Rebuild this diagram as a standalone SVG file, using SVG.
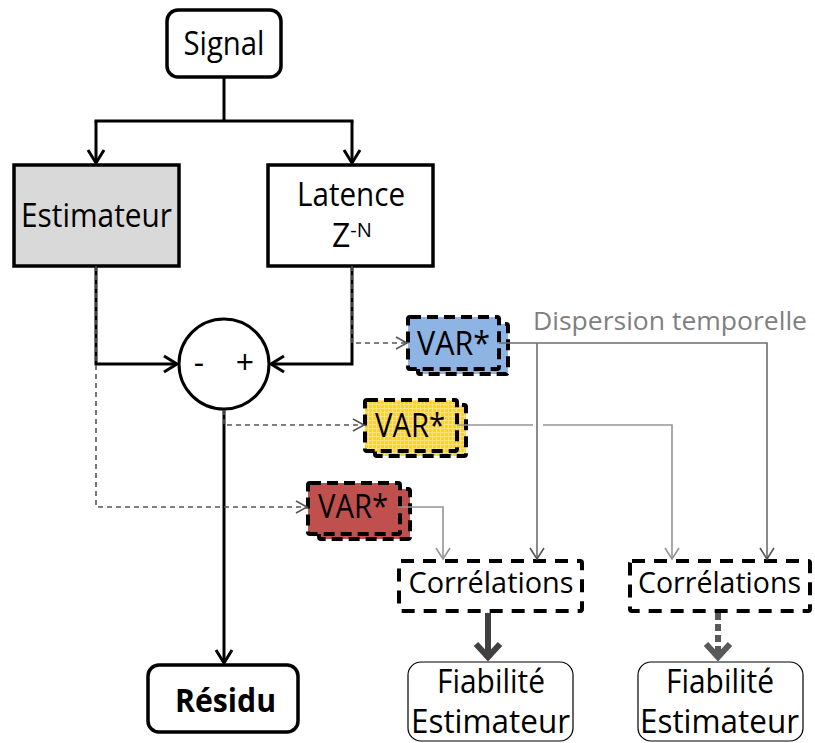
<svg xmlns="http://www.w3.org/2000/svg" width="815" height="743" viewBox="0 0 815 743">
<style>
text{font-family:"Open Sans","Liberation Sans",sans-serif;fill:#000;}
.lbl{font-size:32px;text-anchor:middle;}
.clbl{font-size:29px;text-anchor:middle;}
.box{stroke:#000;stroke-width:3.5;}
.var{stroke:#000;stroke-width:4;stroke-dasharray:11 6;}
.corr{fill:#fff;stroke:#000;stroke-width:4;stroke-dasharray:13 9;}
.fia{fill:#fff;stroke:#000;stroke-width:1.2;}
.solid{fill:none;stroke:#000;stroke-width:3;}
.dash{fill:none;stroke:#555;stroke-width:1.6;stroke-dasharray:5 4;}
.thinA{fill:none;stroke:#6e6e6e;stroke-width:1.6;}
.thinB{fill:none;stroke:#959595;stroke-width:1.6;}
.thick{fill:none;stroke:#404040;stroke-width:6;}
.dotted{fill:none;stroke:#595959;stroke-width:6;stroke-dasharray:7 4;}
</style>
<defs>
<marker id="aBlack" markerUnits="userSpaceOnUse" viewBox="-16 -12 20 24" markerWidth="20" markerHeight="24" refX="0" refY="0" orient="auto">
<path d="M-13,-8 L0,0 L-13,8" fill="none" stroke="#000" stroke-width="3"/>
</marker>
<marker id="aDash" markerUnits="userSpaceOnUse" viewBox="-14 -9 16 18" markerWidth="16" markerHeight="18" refX="0" refY="0" orient="auto">
<path d="M-11,-6 L0,0 L-11,6" fill="none" stroke="#555" stroke-width="1.6"/>
</marker>
<marker id="aThinA" markerUnits="userSpaceOnUse" viewBox="-14 -9 16 18" markerWidth="16" markerHeight="18" refX="0" refY="0" orient="auto">
<path d="M-11,-7 L0,0 L-11,7" fill="none" stroke="#555" stroke-width="1.6"/>
</marker>
<marker id="aThinB" markerUnits="userSpaceOnUse" viewBox="-14 -9 16 18" markerWidth="16" markerHeight="18" refX="0" refY="0" orient="auto">
<path d="M-11,-7 L0,0 L-11,7" fill="none" stroke="#959595" stroke-width="1.6"/>
</marker>
<marker id="aThick" markerUnits="userSpaceOnUse" viewBox="-20 -18 24 36" markerWidth="24" markerHeight="36" refX="0" refY="0" orient="auto">
<path d="M-14,-12 L-1,0 L-14,12" fill="none" stroke="#404040" stroke-width="6"/>
</marker>
<marker id="aDot" markerUnits="userSpaceOnUse" viewBox="-20 -18 24 36" markerWidth="24" markerHeight="36" refX="0" refY="0" orient="auto">
<path d="M-14,-12 L-1,0 L-14,12" fill="none" stroke="#595959" stroke-width="6"/>
</marker>
<pattern id="yel" width="4" height="4" patternUnits="userSpaceOnUse">
<rect width="4" height="4" fill="#f9d22a"/>
<path d="M0,0.5 H4 M0.5,0 V4" stroke="#ffe37a" stroke-width="1"/>
</pattern>
</defs>

<g id="signal">
<rect class="box" x="167" y="10" width="114" height="67" rx="11" fill="#fff"/>
<text class="lbl" x="224" y="55" textLength="81" lengthAdjust="spacingAndGlyphs">Signal</text>
</g>

<g id="estimateur">
<rect class="box" x="14" y="165" width="165" height="101" fill="#d9d9d9" stroke-width="3"/>
<text class="lbl" x="96.5" y="227" textLength="151" lengthAdjust="spacingAndGlyphs">Estimateur</text>
</g>

<g id="latence">
<rect class="box" x="268" y="165" width="165" height="101" fill="#fff" stroke-width="3"/>
<text class="lbl" x="351" y="206" textLength="108" lengthAdjust="spacingAndGlyphs">Latence</text>
<text x="332" y="247" style="font-size:32px">Z<tspan dy="-10" style="font-size:20px">-N</tspan></text>
</g>

<g id="sommateur">
<circle cx="224" cy="364" r="45" fill="#fff" stroke="#000" stroke-width="3"/>
<text x="199" y="374" style="font-size:32px;text-anchor:middle">-</text>
<text x="245" y="374" style="font-size:32px;text-anchor:middle">+</text>
</g>

<g id="var-bleu">
<rect class="var" x="418" y="324" width="90" height="50" rx="2" fill="#8eb4e3"/>
<rect class="var" x="408" y="317" width="91" height="52" rx="2" fill="#8eb4e3"/>
<text class="lbl" x="453.5" y="355" textLength="73" lengthAdjust="spacingAndGlyphs">VAR*</text>
</g>

<g id="var-jaune">
<rect class="var" x="375" y="405" width="91" height="51" rx="2" fill="url(#yel)"/>
<rect class="var" x="365" y="400" width="92" height="51" rx="2" fill="url(#yel)"/>
<text class="lbl" x="410" y="437" textLength="70" lengthAdjust="spacingAndGlyphs">VAR*</text>
</g>

<g id="var-rouge">
<rect class="var" x="319" y="489" width="91" height="50" rx="2" fill="#c0504d"/>
<rect class="var" x="308" y="483" width="92" height="51" rx="2" fill="#c0504d"/>
<text class="lbl" x="353" y="518" textLength="70" lengthAdjust="spacingAndGlyphs">VAR*</text>
</g>

<g id="dispersion">
<text x="533" y="330" style="font-size:25px;fill:#7f7f7f" textLength="274" lengthAdjust="spacingAndGlyphs">Dispersion temporelle</text>
</g>

<g id="correlations-1">
<rect class="corr" x="399" y="561" width="183" height="50" rx="2"/>
<text class="clbl" x="491" y="593" textLength="165" lengthAdjust="spacingAndGlyphs">Corrélations</text>
</g>

<g id="correlations-2">
<rect class="corr" x="630" y="561" width="180" height="50" rx="2"/>
<text class="clbl" x="719.5" y="593" textLength="163" lengthAdjust="spacingAndGlyphs">Corrélations</text>
</g>

<g id="residu">
<rect class="box" x="148" y="665" width="150" height="67" rx="11" fill="#fff"/>
<text class="lbl" x="225.5" y="712" style="font-weight:bold" textLength="101" lengthAdjust="spacingAndGlyphs">Résidu</text>
</g>

<g id="fiabilite-1">
<rect class="fia" x="408" y="662" width="165" height="79" rx="13"/>
<text class="lbl" x="491" y="693" textLength="108" lengthAdjust="spacingAndGlyphs">Fiabilité</text>
<text class="lbl" x="490.5" y="733" textLength="159" lengthAdjust="spacingAndGlyphs">Estimateur</text>
</g>

<g id="fiabilite-2">
<rect class="fia" x="638" y="662" width="165" height="79" rx="13"/>
<text class="lbl" x="720" y="693" textLength="108" lengthAdjust="spacingAndGlyphs">Fiabilité</text>
<text class="lbl" x="719.5" y="733" textLength="159" lengthAdjust="spacingAndGlyphs">Estimateur</text>
</g>

<g id="connectors">
<path class="solid" d="M224,77 V121"/>
<path class="solid" d="M94.5,121 H353.5"/>
<path class="solid" d="M96,121 V163" marker-end="url(#aBlack)"/>
<path class="solid" d="M352,121 V163" marker-end="url(#aBlack)"/>
<path class="solid" d="M96,266 V364 H177" marker-end="url(#aBlack)"/>
<path class="solid" d="M352,266 V364 H271" marker-end="url(#aBlack)"/>
<path class="solid" d="M224,410 V663" marker-end="url(#aBlack)"/>
<path class="dash" d="M96,266 V507 H307" marker-end="url(#aDash)"/>
<path class="dash" d="M352,266 V343 H407" marker-end="url(#aDash)"/>
<path class="dash" d="M224,410 V425 H364" marker-end="url(#aDash)"/>
<path class="thinA" d="M499,343 H767 V559" marker-end="url(#aThinA)"/>
<path class="thinA" d="M537,343 V559" marker-end="url(#aThinA)"/>
<path class="thinB" d="M457,425 H533"/>
<path class="thinB" d="M543,425 H672 V559" marker-end="url(#aThinB)"/>
<path class="thinB" d="M398,507 H443 V559" marker-end="url(#aThinB)"/>
<path class="thick" d="M488,613 V658" marker-end="url(#aThick)"/>
<path class="dotted" d="M718,613 V658" marker-end="url(#aDot)"/>
</g>
</svg>
